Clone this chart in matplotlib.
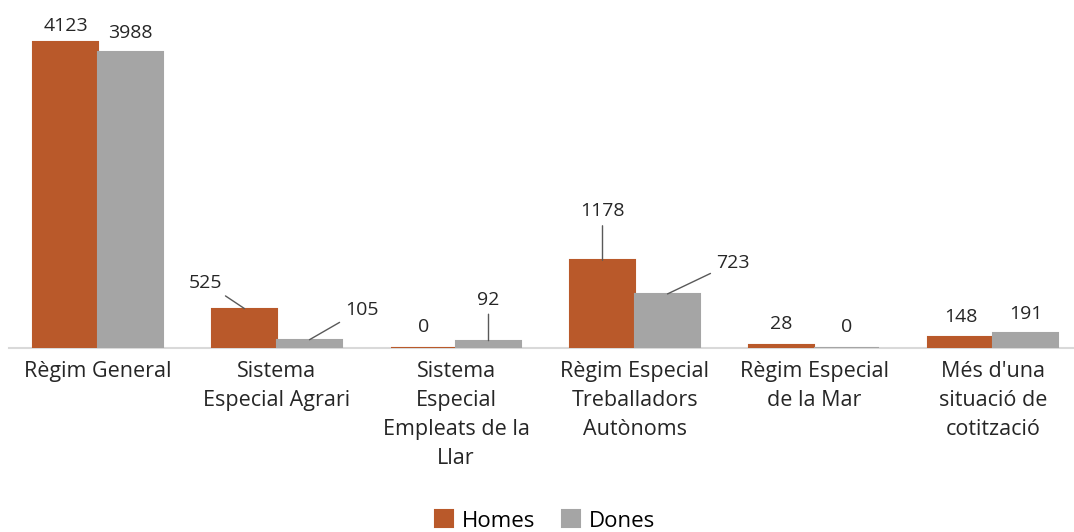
import numpy as np
import matplotlib.pyplot as plt

plt.rcParams['font.family'] = ['Open Sans', 'DejaVu Sans']

# categories and values
categories = ['Règim General', 'Sistema\nEspecial Agrari', 'Sistema\nEspecial\nEmpleats de la\nLlar',
              'Règim Especial\nTreballadors\nAutònoms', 'Règim Especial\nde la Mar',
              "Més d'una\nsituació de\ncotització"]
homes = [4123, 525, 0, 1178, 28, 148]
dones = [3988, 105, 92, 723, 0, 191]

# label offsets (pixels) from the bar top, and whether a leader line is drawn
homes_off = [(0, 16), (-39, 26), (0, 20), (0, 49), (0, 21), (0, 20)]
dones_off = [(0, 19), (52, 30), (0, 41), (65, 31), (0, 20), (0, 19)]
homes_lead = [False, True, False, True, False, False]
dones_lead = [False, True, True, True, False, False]

c_homes = '#B9592A'
c_dones = '#A5A5A5'

fig = plt.figure(figsize=(10.74, 5.32), dpi=100)
W, H = 1074, 532
x0, x1 = 8.5, 1082.5
base, ymax = 347.5, 4500
scale = 305.5 / 4123
ax = fig.add_axes([x0 / W, (H - base) / H, (x1 - x0) / W, ymax * scale / H])

x = np.arange(len(categories))
bw = 65 / 179
b1 = ax.bar(x - bw / 2, homes, bw, color=c_homes, label='Homes', edgecolor=c_homes,
            linewidth=1.5, zorder=3)
b2 = ax.bar(x + bw / 2, dones, bw, color=c_dones, label='Dones', edgecolor=c_dones,
            linewidth=1.5, zorder=3)

def put_labels(xs, vals, offs, leads):
    for xi, v, (dx, dy), lead in zip(xs, vals, offs, leads):
        kw = {}
        if lead:
            kw['arrowprops'] = dict(arrowstyle='-', color='#595959', lw=1.0, shrinkA=2, shrinkB=0)
        ax.annotate(str(v), xy=(xi, v), xytext=(dx, dy), textcoords='offset pixels',
                    ha='center', va='center', fontsize=14, color='#262626', **kw)

put_labels(x - bw / 2, homes, homes_off, homes_lead)
put_labels(x + bw / 2, dones, dones_off, dones_lead)

ax.set_xlim(-0.5, len(categories) - 0.5)
ax.set_ylim(0, ymax)
ax.set_yticks([])
ax.set_xticks(x)
ax.set_xticklabels(categories, fontsize=15.5, color='#262626', linespacing=1.5, va='top')
ax.tick_params(axis='x', length=0, pad=10)
for s in ['top', 'right', 'left']:
    ax.spines[s].set_visible(False)
ax.spines['bottom'].set_color('#D9D9D9')
ax.spines['bottom'].set_linewidth(1.5)

fig.legend(handles=[b1, b2], loc='center', bbox_to_anchor=(545 / W, 11 / H), ncol=2, frameon=False,
           fontsize=16, handlelength=0.8, handleheight=0.8, handletextpad=0.4, columnspacing=1.2)

fig.savefig('out.png', dpi=100)
